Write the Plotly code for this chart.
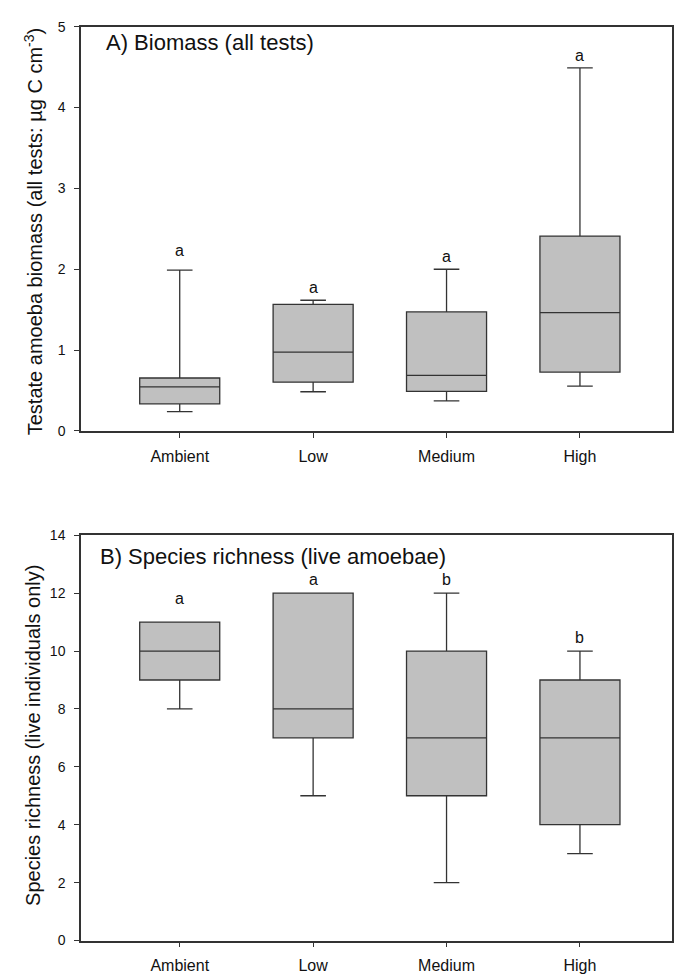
import plotly.graph_objects as go

categories = ["Ambient", "Low", "Medium", "High"]

# Panel A: biomass (µg C cm-3)
a_low = [0.24, 0.485, 0.372, 0.554]
a_q1 = [0.336, 0.603, 0.489, 0.728]
a_med = [0.546, 0.975, 0.687, 1.464]
a_q3 = [0.655, 1.565, 1.472, 2.41]
a_high = [1.99, 1.617, 2.0, 4.49]
a_letters = ["a", "a", "a", "a"]
a_letter_y = [2.23, 1.78, 2.155, 4.64]

# Panel B: species richness
b_low = [8, 5, 2, 3]
b_q1 = [9, 7, 5, 4]
b_med = [10, 8, 7, 7]
b_q3 = [11, 12, 10, 9]
b_high = [11, 12, 12, 10]
b_letters = ["a", "a", "b", "b"]
b_letter_y = [11.82, 12.48, 12.48, 10.47]

W, H = 680, 979
FONT = "Liberation Sans, Arial, sans-serif"
LINE = "#333333"
xpos = list(range(len(categories)))

fig = go.Figure()

def add_box(xa, ya, lo, q1, med, q3, hi):
    fig.add_trace(go.Box(
        x=xpos, q1=q1, median=med, q3=q3, lowerfence=lo, upperfence=hi,
        xaxis=xa, yaxis=ya, width=0.6, whiskerwidth=0.32,
        fillcolor="#c0c0c0", line=dict(color=LINE, width=1.3),
        boxpoints=False, hoverinfo="skip", showlegend=False,
    ))

add_box("x", "y", a_low, a_q1, a_med, a_q3, a_high)
add_box("x2", "y2", b_low, b_q1, b_med, b_q3, b_high)

x_dom = [81 / W, 672 / W]
yA = [1 - 430 / H, 1 - 19 / H]
yB = [1 - 948 / H, 1 - 536 / H]

xcommon = dict(range=[-0.74, 3.69], tickvals=xpos, ticktext=categories,
               showline=True, mirror=True, linecolor=LINE, linewidth=1.5,
               ticks="outside", ticklen=5, tickcolor=LINE, showgrid=False,
               zeroline=False, tickfont=dict(family=FONT, size=16, color="#111"),
               ticklabelstandoff=5)
ycommon = dict(showline=True, mirror=True, linecolor=LINE, linewidth=1.5,
               ticks="outside", ticklen=5, tickcolor=LINE, showgrid=False,
               zeroline=False, tickfont=dict(family=FONT, size=14, color="#111"),
               ticklabelstandoff=6)

fig.update_layout(
    width=W, height=H, margin=dict(l=0, r=0, t=0, b=0),
    paper_bgcolor="white", plot_bgcolor="white",
    xaxis=dict(domain=x_dom, anchor="y", **xcommon),
    yaxis=dict(domain=yA, anchor="x", range=[0, 5], dtick=1, **ycommon),
    xaxis2=dict(domain=x_dom, anchor="y2", **xcommon),
    yaxis2=dict(domain=yB, anchor="x2", range=[0, 14], dtick=2, **ycommon),
)

ann = []
for i, (t, y) in enumerate(zip(a_letters, a_letter_y)):
    ann.append(dict(x=i, y=y, xref="x", yref="y", text=t, showarrow=False,
                    font=dict(family=FONT, size=16, color="#111")))
for i, (t, y) in enumerate(zip(b_letters, b_letter_y)):
    ann.append(dict(x=i, y=y, xref="x2", yref="y2", text=t, showarrow=False,
                    font=dict(family=FONT, size=16, color="#111")))

ann.append(dict(x=104 / W, y=1 - 35 / H, xref="paper", yref="paper",
                xanchor="left", yanchor="middle", showarrow=False,
                text="A) Biomass (all tests)",
                font=dict(family=FONT, size=22, color="#111")))
ann.append(dict(x=98 / W, y=1 - 558 / H, xref="paper", yref="paper",
                xanchor="left", yanchor="middle", showarrow=False,
                text="B) Species richness (live amoebae)",
                font=dict(family=FONT, size=22, color="#111")))
ann.append(dict(x=33 / W, y=1 - 228 / H, xref="paper", yref="paper",
                xanchor="center", yanchor="middle", showarrow=False, textangle=-90,
                text="Testate amoeba biomass (all tests: µg C cm<sup>-3</sup>)",
                font=dict(family=FONT, size=20, color="#111")))
ann.append(dict(x=33 / W, y=1 - 740 / H, xref="paper", yref="paper",
                xanchor="center", yanchor="middle", showarrow=False, textangle=-90,
                text="Species richness (live individuals only)",
                font=dict(family=FONT, size=20, color="#111")))
fig.update_layout(annotations=ann)

fig.write_html("out.html")
